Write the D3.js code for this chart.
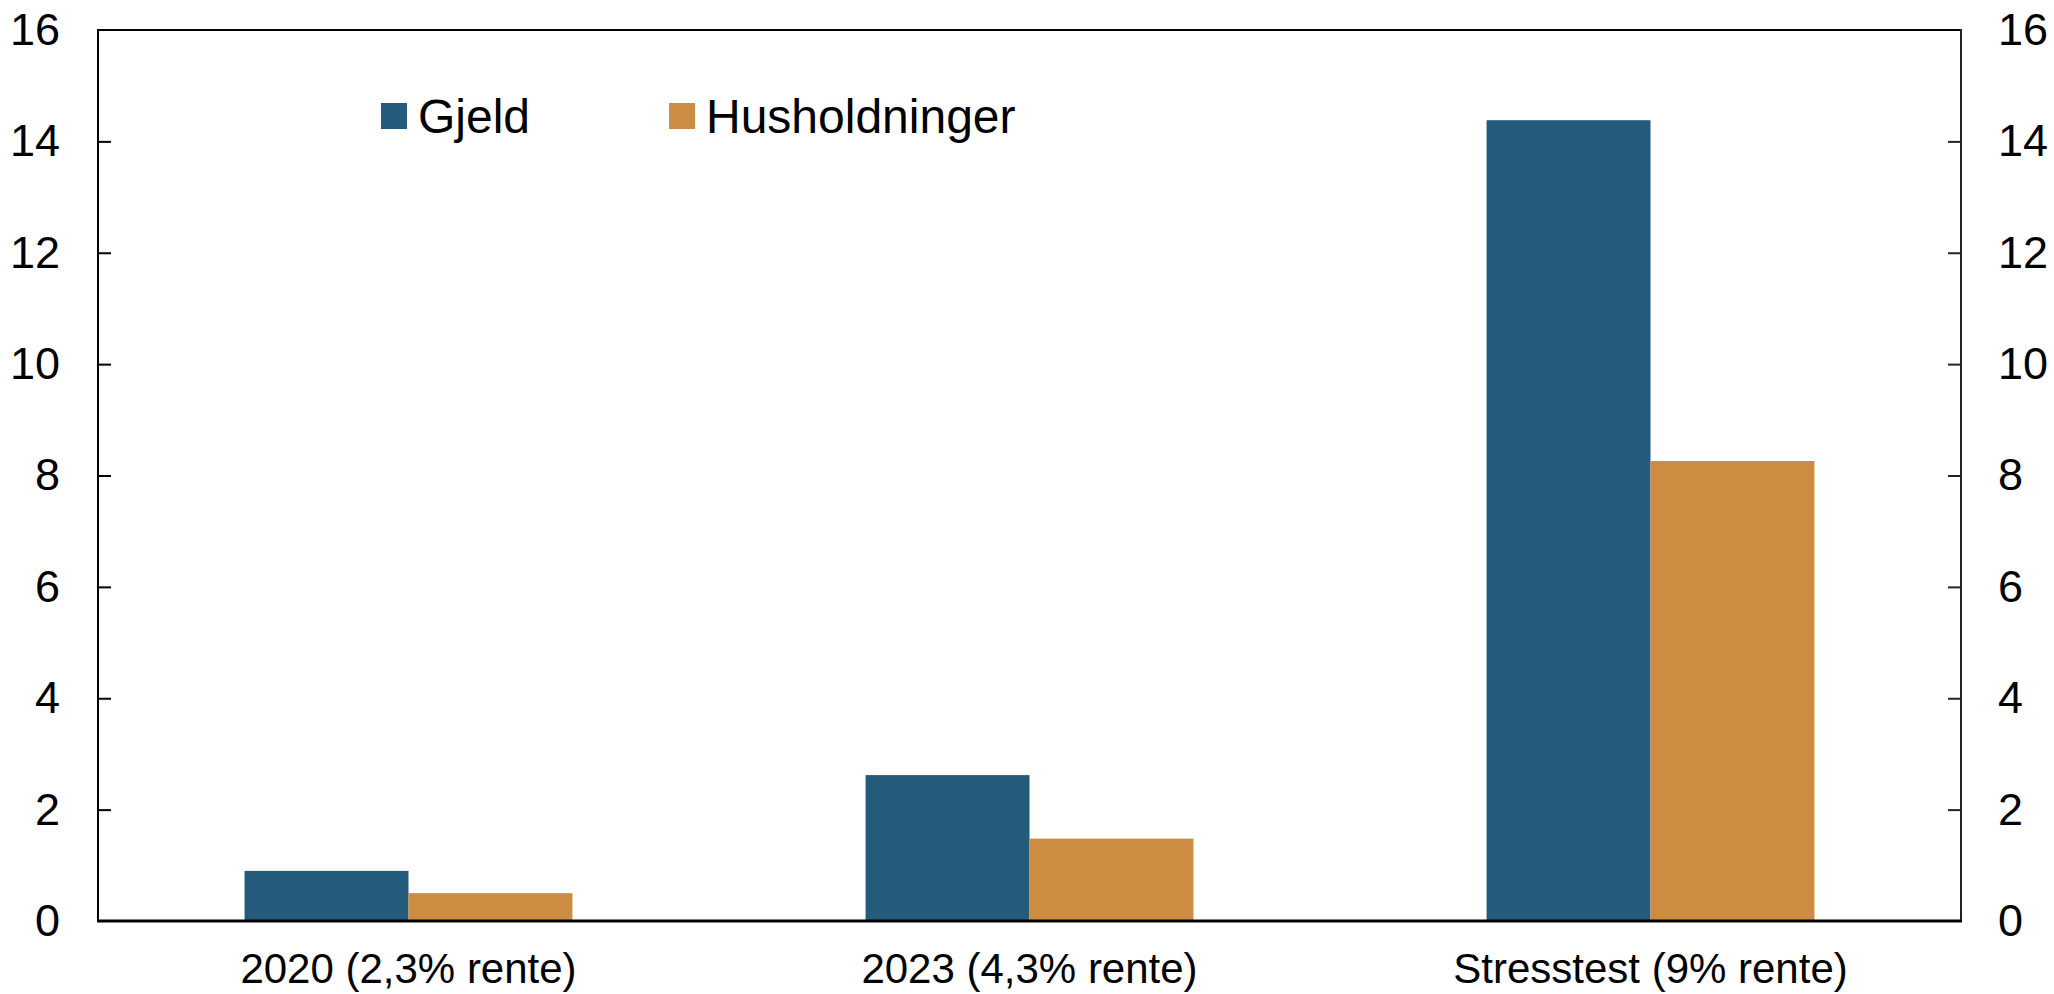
<!DOCTYPE html>
<html>
<head>
<meta charset="utf-8">
<script src="https://cdn.jsdelivr.net/npm/d3@7"></script>
<style>
  html, body { margin: 0; padding: 0; background: #fff; }
  svg { display: block; font-family: "Liberation Sans", Arial, sans-serif; }
</style>
</head>
<body>
<svg id="chart" width="2054" height="994"></svg>
<script>
const categories = ["2020 (2,3% rente)", "2023 (4,3% rente)", "Stresstest (9% rente)"];
const seriesNames = ["Gjeld", "Husholdninger"];
const gjeld = [0.90, 2.62, 14.38];
const husholdninger = [0.50, 1.48, 8.26];
const yTicks = [0, 2, 4, 6, 8, 10, 12, 14, 16];
const colors = ["#245B7A", "#CC8C42"];

const W = 2054, H = 994;
const m = { left: 98, right: 2054 - 1961, top: 30, bottom: 994 - 921 };
const svg = d3.select("#chart");

const x0 = d3.scaleBand().domain(categories).range([m.left, W - m.right])
  .paddingInner(0.472).paddingOuter(0.236);
const x1 = d3.scaleBand().domain(seriesNames).range([0, x0.bandwidth()]);
const y = d3.scaleLinear().domain([0, 16]).range([H - m.bottom, m.top]);

const rows = categories.map((c, i) => ({ cat: c, vals: [gjeld[i], husholdninger[i]] }));

// bars
const g = svg.append("g");
rows.forEach(r => {
  r.vals.forEach((v, j) => {
    g.append("rect")
      .attr("x", x0(r.cat) + x1(seriesNames[j]))
      .attr("width", x1.bandwidth())
      .attr("y", y(v))
      .attr("height", y(0) - y(v))
      .attr("fill", colors[j]);
  });
});

// left axis
const leftAxis = d3.axisLeft(y).tickValues(yTicks).tickSize(-13).tickPadding(38).tickFormat(d3.format("d"));
const la = svg.append("g").attr("transform", `translate(${m.left},0)`).call(leftAxis);
la.select(".domain").remove();
la.selectAll(".tick line").attr("stroke", "#000").attr("stroke-width", 2)
  .filter(d => d === 0 || d === 16).remove();
la.selectAll(".tick text").attr("font-size", 45).attr("fill", "#000")
  .attr("font-family", "Liberation Sans, Arial, sans-serif");

// right axis
const rightAxis = d3.axisRight(y).tickValues(yTicks).tickSize(-13).tickPadding(37).tickFormat(d3.format("d"));
const ra = svg.append("g").attr("transform", `translate(${W - m.right},0)`).call(rightAxis);
ra.select(".domain").remove();
ra.selectAll(".tick line").attr("stroke", "#222").attr("stroke-width", 2)
  .filter(d => d === 0 || d === 16).remove();
ra.selectAll(".tick text").attr("font-size", 45).attr("fill", "#000")
  .attr("font-family", "Liberation Sans, Arial, sans-serif");

// x axis labels
const xAxis = d3.axisBottom(x0).tickSize(0).tickPadding(32);
const xa = svg.append("g").attr("transform", `translate(0,${y(0)})`).call(xAxis);
xa.select(".domain").remove();
xa.selectAll(".tick text").attr("font-size", 42).attr("fill", "#000")
  .attr("font-family", "Liberation Sans, Arial, sans-serif");

// frame
svg.append("line").attr("x1", m.left).attr("x2", W - m.right).attr("y1", y(16)).attr("y2", y(16))
  .attr("stroke", "#000").attr("stroke-width", 2);
svg.append("line").attr("x1", m.left).attr("x2", m.left).attr("y1", y(16) - 1).attr("y2", y(0))
  .attr("stroke", "#000").attr("stroke-width", 2);
svg.append("line").attr("x1", W - m.right).attr("x2", W - m.right).attr("y1", y(16) - 1).attr("y2", y(0))
  .attr("stroke", "#222").attr("stroke-width", 2);
svg.append("line").attr("x1", m.left - 1).attr("x2", W - m.right + 1).attr("y1", y(0)).attr("y2", y(0))
  .attr("stroke", "#000").attr("stroke-width", 3);

// legend
const legendX = [381, 669];
const leg = svg.append("g");
seriesNames.forEach((s, j) => {
  leg.append("rect").attr("x", legendX[j]).attr("y", 103).attr("width", 26).attr("height", 26)
    .attr("fill", colors[j]);
  leg.append("text").attr("x", legendX[j] + 37).attr("y", 133)
    .attr("font-size", 48).attr("fill", "#000").text(s);
});
</script>
</body>
</html>
